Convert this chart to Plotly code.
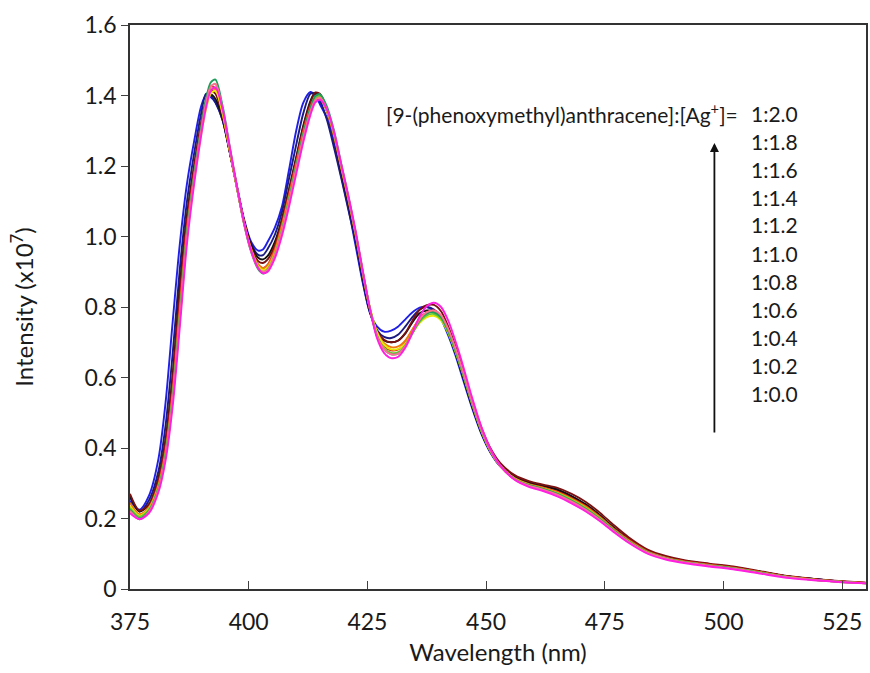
import plotly.graph_objects as go

# Emission spectra of 9-(phenoxymethyl)anthracene titrated with Ag+
wavelength = [375, 377, 379, 381, 382.5, 384, 385.5, 387, 388.5, 390, 391, 392, 393, 394.5, 396,
              397.5, 399, 400.5, 402, 403, 404, 405.5, 407, 408.5, 410, 411.5, 413, 414, 415,
              416.5, 418, 419.5, 421, 422.5, 424, 425.5, 427, 428.5, 430, 431.5, 433, 434.5, 436,
              437.5, 439, 440.5, 442, 443.5, 445, 447, 449, 451, 453, 456, 459, 462, 465, 468,
              471, 474, 477, 480, 484, 488, 492, 497, 502, 508, 514, 520, 525, 530]

ratio_labels = ["1:2.0", "1:1.8", "1:1.6", "1:1.4", "1:1.2", "1:1.0",
                "1:0.8", "1:0.6", "1:0.4", "1:0.2", "1:0.0"]

intensity_blue = [0.25, 0.225, 0.265, 0.37, 0.53, 0.76, 0.98, 1.15, 1.27, 1.37, 1.40, 1.395, 1.38, 1.33, 1.24,
                  1.145, 1.05, 0.985, 0.96, 0.963, 0.985, 1.025, 1.085, 1.19, 1.30, 1.38, 1.41, 1.40, 1.375,
                  1.335, 1.26, 1.17, 1.08, 0.975, 0.87, 0.785, 0.745, 0.73, 0.733, 0.745, 0.765, 0.785, 0.798,
                  0.80, 0.79, 0.765, 0.72, 0.665, 0.60, 0.515, 0.44, 0.385, 0.348, 0.318, 0.302, 0.292, 0.282, 0.263,
                  0.238, 0.207, 0.172, 0.141, 0.108, 0.09, 0.079, 0.07, 0.062, 0.048, 0.035, 0.027, 0.021, 0.017]

intensity_navy = [0.26, 0.22, 0.252, 0.335, 0.465, 0.67, 0.91, 1.10, 1.235, 1.35, 1.405, 1.40, 1.38, 1.33, 1.24,
                  1.14, 1.045, 0.98, 0.948, 0.947, 0.965, 1.005, 1.07, 1.165, 1.26, 1.35, 1.405, 1.405, 1.385,
                  1.33, 1.25, 1.165, 1.075, 0.985, 0.875, 0.785, 0.735, 0.715, 0.712, 0.722, 0.745, 0.772, 0.793,
                  0.80, 0.793, 0.77, 0.727, 0.672, 0.607, 0.52, 0.443, 0.386, 0.348, 0.318, 0.302, 0.292, 0.281, 0.262,
                  0.238, 0.207, 0.172, 0.141, 0.108, 0.09, 0.079, 0.07, 0.062, 0.048, 0.035, 0.027, 0.021, 0.017]

intensity_black = [0.265, 0.22, 0.24, 0.315, 0.425, 0.61, 0.86, 1.06, 1.20, 1.32, 1.38, 1.403, 1.39, 1.335, 1.24,
                   1.14, 1.045, 0.975, 0.94, 0.935, 0.945, 0.985, 1.05, 1.135, 1.225, 1.315, 1.385, 1.408, 1.40,
                   1.355, 1.28, 1.185, 1.095, 1.0, 0.89, 0.79, 0.73, 0.705, 0.70, 0.705, 0.725, 0.757, 0.782,
                   0.79, 0.787, 0.768, 0.727, 0.672, 0.61, 0.522, 0.445, 0.388, 0.35, 0.318, 0.302, 0.292, 0.282, 0.263,
                   0.24, 0.209, 0.173, 0.142, 0.109, 0.09, 0.079, 0.07, 0.062, 0.048, 0.035, 0.027, 0.021, 0.017]

intensity_maroon = [0.27, 0.222, 0.24, 0.312, 0.42, 0.60, 0.845, 1.05, 1.195, 1.32, 1.385, 1.413, 1.405, 1.34, 1.24,
                    1.14, 1.045, 0.97, 0.93, 0.925, 0.935, 0.975, 1.045, 1.13, 1.22, 1.31, 1.38, 1.408, 1.405,
                    1.36, 1.285, 1.19, 1.10, 1.005, 0.895, 0.795, 0.732, 0.707, 0.70, 0.705, 0.727, 0.762, 0.792,
                    0.805, 0.806, 0.788, 0.745, 0.69, 0.627, 0.538, 0.458, 0.397, 0.357, 0.323, 0.306, 0.296, 0.287, 0.27,
                    0.247, 0.216, 0.18, 0.147, 0.112, 0.093, 0.081, 0.072, 0.064, 0.05, 0.036, 0.027, 0.022, 0.018]

intensity_red = [0.235, 0.205, 0.23, 0.30, 0.40, 0.57, 0.81, 1.03, 1.18, 1.31, 1.38, 1.425, 1.42, 1.35, 1.245,
                 1.14, 1.04, 0.965, 0.92, 0.91, 0.92, 0.965, 1.035, 1.12, 1.21, 1.30, 1.37, 1.395, 1.395,
                 1.355, 1.285, 1.195, 1.105, 1.005, 0.895, 0.795, 0.725, 0.69, 0.677, 0.68, 0.70, 0.735, 0.768,
                 0.785, 0.79, 0.775, 0.735, 0.68, 0.62, 0.53, 0.45, 0.39, 0.35, 0.315, 0.298, 0.288, 0.276, 0.258,
                 0.235, 0.205, 0.17, 0.14, 0.107, 0.089, 0.078, 0.069, 0.061, 0.047, 0.034, 0.026, 0.021, 0.017]

intensity_orange = [0.245, 0.212, 0.232, 0.295, 0.39, 0.555, 0.79, 1.015, 1.17, 1.30, 1.37, 1.415, 1.418, 1.35, 1.245,
                    1.14, 1.04, 0.965, 0.92, 0.91, 0.918, 0.96, 1.03, 1.115, 1.205, 1.295, 1.365, 1.393, 1.395,
                    1.355, 1.285, 1.195, 1.105, 1.007, 0.897, 0.798, 0.73, 0.697, 0.686, 0.688, 0.705, 0.737, 0.766,
                    0.782, 0.785, 0.77, 0.732, 0.678, 0.617, 0.528, 0.449, 0.389, 0.349, 0.314, 0.297, 0.287, 0.275, 0.256,
                    0.233, 0.203, 0.168, 0.138, 0.106, 0.088, 0.077, 0.068, 0.06, 0.047, 0.034, 0.026, 0.021, 0.017]

intensity_yellow = [0.235, 0.208, 0.228, 0.29, 0.38, 0.54, 0.765, 0.995, 1.155, 1.29, 1.36, 1.405, 1.413, 1.35, 1.245,
                    1.14, 1.04, 0.962, 0.915, 0.905, 0.912, 0.952, 1.02, 1.105, 1.195, 1.285, 1.357, 1.387, 1.392,
                    1.357, 1.29, 1.20, 1.11, 1.012, 0.903, 0.80, 0.728, 0.693, 0.68, 0.681, 0.697, 0.727, 0.755,
                    0.771, 0.775, 0.762, 0.727, 0.676, 0.617, 0.53, 0.45, 0.39, 0.35, 0.313, 0.296, 0.285, 0.272, 0.253,
                    0.23, 0.20, 0.166, 0.136, 0.104, 0.087, 0.076, 0.067, 0.059, 0.046, 0.033, 0.025, 0.02, 0.016]

intensity_lime = [0.23, 0.205, 0.226, 0.29, 0.385, 0.55, 0.78, 1.01, 1.17, 1.305, 1.38, 1.425, 1.432, 1.36, 1.25,
                  1.14, 1.038, 0.96, 0.912, 0.90, 0.908, 0.95, 1.02, 1.107, 1.20, 1.29, 1.362, 1.393, 1.398,
                  1.36, 1.29, 1.198, 1.108, 1.01, 0.90, 0.797, 0.72, 0.683, 0.67, 0.672, 0.692, 0.726, 0.758,
                  0.776, 0.78, 0.766, 0.728, 0.675, 0.614, 0.527, 0.448, 0.388, 0.348, 0.312, 0.295, 0.284, 0.271, 0.252,
                  0.229, 0.20, 0.166, 0.136, 0.104, 0.087, 0.076, 0.067, 0.059, 0.046, 0.033, 0.025, 0.02, 0.016]

intensity_green = [0.225, 0.20, 0.222, 0.285, 0.378, 0.54, 0.77, 1.005, 1.17, 1.31, 1.39, 1.437, 1.445, 1.37, 1.255,
                   1.142, 1.037, 0.957, 0.907, 0.895, 0.903, 0.945, 1.015, 1.103, 1.198, 1.29, 1.365, 1.398, 1.404,
                   1.368, 1.298, 1.205, 1.113, 1.013, 0.902, 0.797, 0.718, 0.679, 0.666, 0.668, 0.69, 0.727, 0.762,
                   0.781, 0.785, 0.771, 0.733, 0.68, 0.619, 0.531, 0.451, 0.39, 0.349, 0.312, 0.295, 0.284, 0.27, 0.25,
                   0.227, 0.198, 0.165, 0.135, 0.104, 0.087, 0.076, 0.067, 0.059, 0.046, 0.033, 0.025, 0.02, 0.016]

intensity_pink = [0.222, 0.198, 0.22, 0.283, 0.375, 0.537, 0.765, 0.998, 1.162, 1.30, 1.378, 1.425, 1.433, 1.362, 1.25,
                  1.14, 1.037, 0.958, 0.91, 0.90, 0.906, 0.947, 1.015, 1.10, 1.192, 1.282, 1.355, 1.387, 1.394,
                  1.36, 1.292, 1.20, 1.11, 1.012, 0.902, 0.797, 0.718, 0.68, 0.666, 0.668, 0.69, 0.728, 0.765,
                  0.785, 0.79, 0.777, 0.738, 0.684, 0.622, 0.533, 0.452, 0.39, 0.348, 0.311, 0.293, 0.282, 0.268, 0.248,
                  0.225, 0.196, 0.163, 0.134, 0.103, 0.086, 0.075, 0.066, 0.058, 0.045, 0.033, 0.025, 0.02, 0.016]

intensity_magenta = [0.215, 0.198, 0.215, 0.275, 0.365, 0.52, 0.745, 0.98, 1.148, 1.288, 1.365, 1.413, 1.423, 1.362, 1.255,
                     1.145, 1.04, 0.96, 0.91, 0.896, 0.90, 0.938, 1.002, 1.085, 1.177, 1.268, 1.345, 1.38, 1.388,
                     1.36, 1.295, 1.205, 1.115, 1.017, 0.905, 0.797, 0.712, 0.67, 0.655, 0.659, 0.685, 0.728, 0.773,
                     0.802, 0.812, 0.80, 0.762, 0.705, 0.64, 0.545, 0.46, 0.395, 0.35, 0.31, 0.29, 0.278, 0.263, 0.243,
                     0.22, 0.192, 0.16, 0.131, 0.10, 0.083, 0.073, 0.064, 0.056, 0.043, 0.031, 0.024, 0.019, 0.016]

series = [
    ("1:0.0", intensity_blue, "#1f1fe6"),
    ("1:0.2", intensity_navy, "#1a1a80"),
    ("1:0.4", intensity_black, "#111111"),
    ("1:0.6", intensity_maroon, "#7a1010"),
    ("1:0.8", intensity_red, "#e02020"),
    ("1:1.0", intensity_orange, "#f07810"),
    ("1:1.2", intensity_yellow, "#e8e800"),
    ("1:1.4", intensity_lime, "#66cc33"),
    ("1:1.6", intensity_green, "#1e9e5a"),
    ("1:1.8", intensity_pink, "#ff6f91"),
    ("1:2.0", intensity_magenta, "#ff1fe0"),
]

FONT = "Lato"
TXT = "#1a1a1a"

fig = go.Figure()
for name, vals, color in series:
    fig.add_trace(go.Scatter(
        x=wavelength, y=vals, name=name, mode="lines",
        line=dict(color=color, width=1.9, shape="spline", smoothing=0.8),
        showlegend=False,
    ))

# Plot-area geometry in pixels (used only to place the annotation block)
L, R, T, B = 130, 868, 25, 589
W, H = R - L, B - T


def px(x):
    return (x - L) / W


def py(y):
    return (B - y) / H


fig.add_annotation(
    x=px(742), y=py(113), xref="paper", yref="paper",
    text="[9-(phenoxymethyl)anthracene]:[Ag<sup>+</sup>]=",
    showarrow=False, xanchor="right", yanchor="middle",
    font=dict(family=FONT, size=21, color=TXT),
)
for i, lab in enumerate(ratio_labels):
    fig.add_annotation(
        x=px(751), y=py(113 + 28 * i), xref="paper", yref="paper",
        text=lab, showarrow=False, xanchor="left", yanchor="middle",
        font=dict(family=FONT, size=21, color=TXT),
    )

# Upward arrow showing increasing Ag+ ratio
fig.add_annotation(
    x=px(716), y=py(143), xref="paper", yref="paper",
    ax=0, ay=434 - 143, axref="pixel", ayref="pixel",
    text="", showarrow=True, arrowhead=2, arrowsize=1.0,
    arrowwidth=1.8, arrowcolor="#111111",
)

fig.update_layout(
    width=870, height=673,
    margin=dict(l=L, r=870 - R, t=T, b=673 - B),
    paper_bgcolor="white", plot_bgcolor="white",
    font=dict(family=FONT, color=TXT),
    xaxis=dict(
        range=[375, 530], tickvals=[375, 400, 425, 450, 475, 500, 525],
        ticks="inside", ticklen=8, tickcolor="#404040", tickwidth=1.2,
        showline=True, linecolor="#333333", linewidth=1.6, mirror=True,
        showgrid=False, zeroline=False, ticklabelstandoff=12,
        tickfont=dict(family=FONT, size=23, color=TXT),
        title=dict(text="Wavelength (nm)", font=dict(family=FONT, size=24, color=TXT), standoff=10),
    ),
    yaxis=dict(
        range=[0, 1.6],
        tickvals=[0, 0.2, 0.4, 0.6, 0.8, 1.0, 1.2, 1.4, 1.6],
        ticktext=["0", "0.2", "0.4", "0.6", "0.8", "1.0", "1.2", "1.4", "1.6"],
        ticks="outside", ticklen=7, tickcolor="#404040", tickwidth=1.2,
        showline=True, linecolor="#333333", linewidth=1.6, mirror=True,
        showgrid=False, zeroline=False,
        tickfont=dict(family=FONT, size=23, color=TXT),
        title=dict(text="Intensity (x10<sup>7</sup>)", font=dict(family=FONT, size=24, color=TXT), standoff=44),
    ),
)

fig.write_html("out.html")
